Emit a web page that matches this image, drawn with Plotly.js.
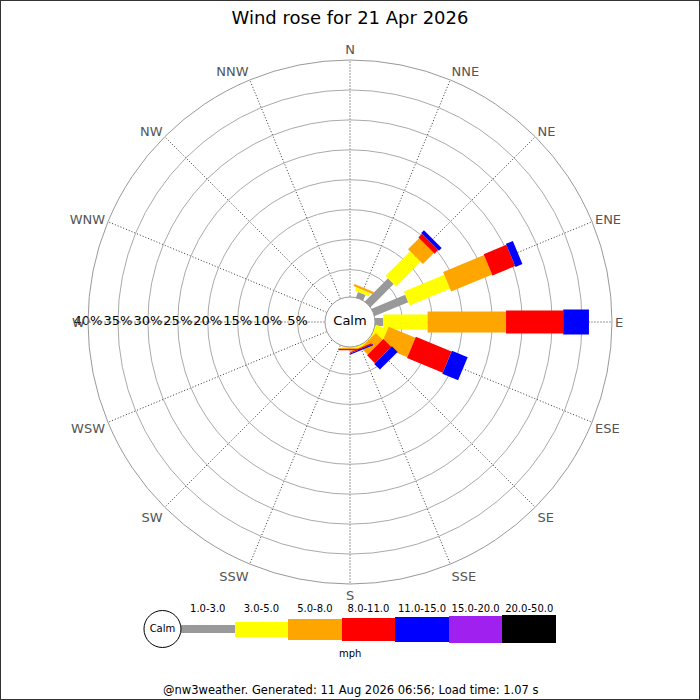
<!DOCTYPE html>
<html>
<head>
<meta charset="utf-8">
<script src="https://cdn.plot.ly/plotly-3.0.1.min.js"></script>
<style>html,body{margin:0;padding:0;background:#fff}#chart{width:700px;height:700px}</style>
</head>
<body>
<div id="chart"></div>
<script>
// ---- data (percent of time per direction and speed bin) ----
const directions = ['N','NNE','NE','ENE','E','ESE','SE','SSE','S','SSW','SW','WSW','W','WNW','NW','NNW'];
const speedBins = ['1.0-3.0','3.0-5.0','5.0-8.0','8.0-11.0','11.0-15.0','15.0-20.0','20.0-50.0'];
const bin1to3   = [0, 1.4, 5.9, 6.5, 1.8, 0.4, 0.3, 0.4, 0.3, 0,0,0,0,0,0,0];
const bin3to5   = [0, 0.6, 5.8, 7.3, 7.4, 2.1, 0.3, 0.35,0.3, 0,0,0,0,0,0,0];
const bin5to8   = [0, 0.4, 2.6, 7.4, 13.1,4.85,1.6, 0.15,0.15,0,0,0,0,0,0,0];
const bin8to11  = [0, 0,   0.85,4.1, 9.55,6.45,1.85,0.2, 0.2, 0,0,0,0,0,0,0];
const bin11to15 = [0, 0,   0.65,1.25,4.3, 2.85,1.35,0.2, 0,   0,0,0,0,0,0,0];
const bin15to20 = [0,0,0,0,0,0,0,0,0,0,0,0,0,0,0,0];
const bin20to50 = [0,0,0,0,0,0,0,0,0,0,0,0,0,0,0,0];
const radialTicks = [5,10,15,20,25,30,35,40];
const radialTickText = ['5%','10%','15%','20%','25%','30%','35%','40%'];
const titleText = 'Wind rose for 21 Apr 2026';
const footerText = '@nw3weather. Generated: 11 Aug 2026 06:56; Load time: 1.07 s';
const unitText = 'mph';
const calmText = 'Calm';

// ---- styles ----
const binColors = ['#999999','#ffff00','#ffa500','#ff0000','#0000ff','#a020f0','#000000'];
const binWidths = [8,15,21,23,25,27,28]; // px thickness of each bin
const FONT = 'DejaVu Sans, sans-serif';

const series = [bin1to3,bin3to5,bin5to8,bin8to11,bin11to15,bin15to20,bin20to50];
const traces = [];
const cum = directions.map(() => 0);
series.forEach((vals, b) => {
  const r = [], th = [];
  vals.forEach((v, i) => {
    if (v > 0) {
      r.push(cum[i], cum[i] + v, null);
      th.push(directions[i], directions[i], null);
      cum[i] += v;
    }
  });
  traces.push({
    type: 'scatterpolar', subplot: 'polar', mode: 'lines',
    r: r, theta: th, connectgaps: false,
    line: {color: binColors[b], width: binWidths[b]},
    hoverinfo: 'skip', showlegend: false
  });
});

// radial percent labels along west
traces.push({
  type: 'scatterpolar', subplot: 'polar', mode: 'text',
  r: radialTicks, theta: radialTicks.map(() => 'W'),
  text: radialTickText, textposition: 'middle center',
  textfont: {family: FONT, size: 13, color: '#000'},
  cliponaxis: false, hoverinfo: 'skip', showlegend: false
});

// calm circle at the centre (second polar on top)
traces.push({
  type: 'scatterpolar', subplot: 'polar2', mode: 'markers+text',
  r: [0], theta: [0], text: [calmText], textposition: 'middle center',
  marker: {size: 50, color: '#ffffff', line: {color: '#999999', width: 1}},
  textfont: {family: FONT, size: 13, color: '#000'},
  cliponaxis: false, hoverinfo: 'skip', showlegend: false
});

// legend bars
const legX = speedBins.map((_, i) => i);
traces.push({
  type: 'bar', xaxis: 'x', yaxis: 'y',
  x: legX, y: binWidths, base: binWidths.map(w => -w / 2),
  width: 1, marker: {color: binColors, line: {width: 0}},
  hoverinfo: 'skip', showlegend: false
});
const legCircleR = 18.5, pxPerUnit = 412 / 7.69;
traces.push({
  type: 'scatter', xaxis: 'x', yaxis: 'y', mode: 'markers+text',
  x: [-0.5 - legCircleR / pxPerUnit], y: [0], text: [calmText], textposition: 'middle center',
  marker: {size: 2 * legCircleR, color: '#fff', line: {color: '#000', width: 1}},
  textfont: {family: FONT, size: 10, color: '#000'},
  cliponaxis: false, hoverinfo: 'skip', showlegend: false
});

const dom = {x: [88/700, 612/700], y: [116/700, 640/700]};
const layout = {
  width: 700, height: 700,
  margin: {l: 0, r: 0, t: 0, b: 0},
  paper_bgcolor: '#fff',
  font: {family: FONT, color: '#000'},
  showlegend: false,
  title: {text: titleText, x: 0.5, xanchor: 'center', y: 1 - 18/700, yanchor: 'middle',
          font: {family: FONT, size: 18, color: '#000'}},
  polar: {
    domain: dom, hole: 22.5/262, bgcolor: '#fff',
    radialaxis: {range: [0, 40], dtick: 5, tick0: 0, showticklabels: false, ticks: '',
                 showline: false, gridcolor: '#aaaaaa', gridwidth: 1, angle: 180},
    angularaxis: {type: 'category', categoryarray: directions, rotation: 90, direction: 'clockwise',
                  showline: true, linecolor: '#999999', linewidth: 1,
                  gridcolor: '#333333', griddash: '1px,2px', gridwidth: 1, ticks: '',
                  tickfont: {family: FONT, size: 13, color: '#555555'}}
  },
  polar2: {
    domain: dom, hole: 0, bgcolor: 'rgba(0,0,0,0)',
    radialaxis: {visible: false, range: [0, 1]},
    angularaxis: {visible: false}
  },
  xaxis: {domain: [144/700, 556/700], range: [-1.19, 6.5], side: 'top',
          tickvals: legX, ticktext: speedBins, ticks: '', showgrid: false, zeroline: false,
          showline: false, tickfont: {family: FONT, size: 10, color: '#000'}, fixedrange: true},
  yaxis: {domain: [57/700, 85/700], range: [-14, 14], visible: false, fixedrange: true},
  bargap: 0,
  annotations: [
    {text: unitText, xref: 'paper', yref: 'paper', x: 0.5, y: (700-653)/700, xanchor: 'center', yanchor: 'middle',
     showarrow: false, font: {family: FONT, size: 10, color: '#000'}},
    {text: footerText, xref: 'paper', yref: 'paper', x: 0.5, y: (700-690)/700, xanchor: 'center', yanchor: 'middle',
     showarrow: false, font: {family: FONT, size: 11.5, color: '#000'}}
  ],
  shapes: [
    {type: 'rect', xref: 'paper', yref: 'paper', x0: 0, x1: 1, y0: 0, y1: 1,
     line: {color: '#333', width: 2}, layer: 'above'}
  ]
};

Plotly.newPlot('chart', traces, layout, {staticPlot: true, displayModeBar: false});
</script>
</body>
</html>
